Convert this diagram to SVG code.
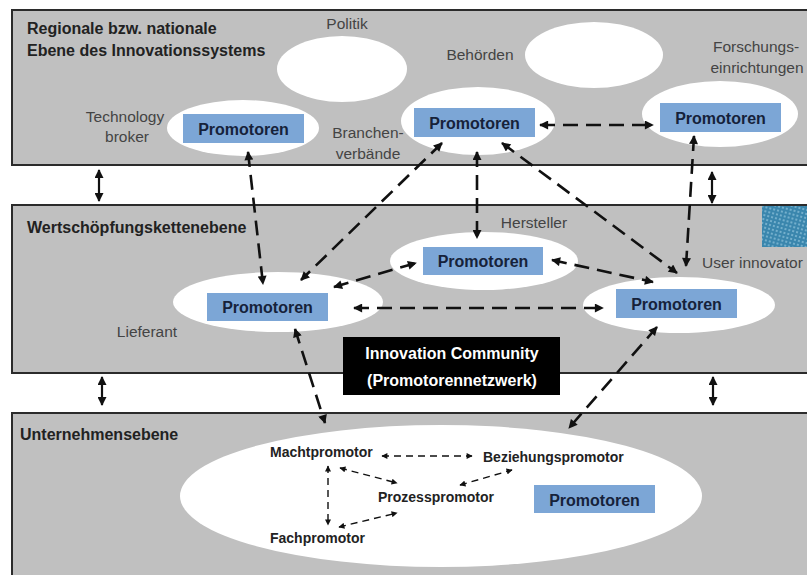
<svg xmlns="http://www.w3.org/2000/svg" width="807" height="575" viewBox="0 0 807 575">
<defs>
<style>
.panel{fill:#c0c0c0;stroke:#2b2b2b;stroke-width:2}
.ell{fill:#ffffff}
.box{fill:#7ca6d6}
.ptxt{font-family:"Liberation Sans",Arial,sans-serif;font-weight:bold;font-size:16px;fill:#16223a;text-anchor:middle}
.title{font-family:"Liberation Sans",Arial,sans-serif;font-weight:bold;font-size:16px;fill:#222}
.lbl{font-family:"Liberation Sans",Arial,sans-serif;font-size:15.5px;fill:#444}
.mid{text-anchor:middle}
.sm{font-family:"Liberation Sans",Arial,sans-serif;font-weight:bold;font-size:14px;fill:#222}
.big{fill:none;stroke:#111;stroke-width:2.6;stroke-dasharray:15 8;marker-start:url(#ah);marker-end:url(#ah)}
.small{fill:none;stroke:#111;stroke-width:1.4;stroke-dasharray:7 5;marker-start:url(#as);marker-end:url(#as)}
.solid{fill:none;stroke:#111;stroke-width:2.2;marker-start:url(#ah);marker-end:url(#ah)}
</style>
<marker id="ah" viewBox="0 0 10 10" refX="9" refY="5" markerWidth="10" markerHeight="9" markerUnits="userSpaceOnUse" orient="auto-start-reverse">
<path d="M0,0 L10,5 L0,10 Z" fill="#111"/>
</marker>
<marker id="as" viewBox="0 0 10 10" refX="9" refY="5" markerWidth="7" markerHeight="6" markerUnits="userSpaceOnUse" orient="auto-start-reverse">
<path d="M0,0 L10,5 L0,10 Z" fill="#111"/>
</marker>
<pattern id="dots" width="4" height="4" patternUnits="userSpaceOnUse" patternTransform="rotate(15)">
<rect width="4" height="4" fill="#3a86ad"/>
<circle cx="2" cy="2" r="0.9" fill="#8fc3dc"/>
</pattern>
</defs>

<g id="panel-regional">
<rect class="panel" x="12" y="10" width="800" height="155"/>
<text class="title" x="27" y="34">Regionale bzw. nationale</text>
<text class="title" x="27" y="56">Ebene des Innovationssystems</text>
</g>
<g id="panel-wertschoepfung">
<rect class="panel" x="12" y="205" width="800" height="168"/>
<text class="title" x="27" y="233">Wertschöpfungskettenebene</text>
<rect x="762" y="206" width="46" height="41" fill="url(#dots)"/>
</g>
<g id="panel-unternehmen">
<rect class="panel" x="12" y="413" width="800" height="170"/>
<text class="title" x="20" y="440">Unternehmensebene</text>
</g>

<g id="politik">
<text class="lbl mid" x="347" y="29">Politik</text>
<ellipse class="ell" cx="342" cy="69" rx="65" ry="33"/>
</g>
<g id="behoerden">
<text class="lbl mid" x="480" y="60">Behörden</text>
<ellipse class="ell" cx="594" cy="55" rx="69" ry="33"/>
</g>
<g id="technology-broker">
<text class="lbl mid" x="125" y="122">Technology</text>
<text class="lbl mid" x="127" y="142">broker</text>
<ellipse class="ell" cx="243" cy="128" rx="76" ry="28"/>
<rect class="box" x="183" y="114" width="121" height="29"/>
<text class="ptxt" x="243.5" y="135">Promotoren</text>
</g>
<g id="branchenverbaende">
<text class="lbl mid" x="368" y="138">Branchen-</text>
<text class="lbl mid" x="368" y="159">verbände</text>
<ellipse class="ell" cx="478" cy="121" rx="77" ry="34"/>
<rect class="box" x="414" y="108" width="121" height="29"/>
<text class="ptxt" x="474.5" y="129">Promotoren</text>
</g>
<g id="forschung">
<text class="lbl mid" x="756" y="52">Forschungs-</text>
<text class="lbl mid" x="757" y="73">einrichtungen</text>
<ellipse class="ell" cx="720" cy="114" rx="78" ry="33"/>
<rect class="box" x="660" y="103" width="121" height="29"/>
<text class="ptxt" x="720.5" y="124">Promotoren</text>
</g>

<g id="hersteller">
<text class="lbl mid" x="534" y="228">Hersteller</text>
<ellipse class="ell" cx="484" cy="261" rx="94" ry="29"/>
<rect class="box" x="423" y="247" width="120" height="28"/>
<text class="ptxt" x="483" y="267">Promotoren</text>
</g>
<g id="lieferant">
<text class="lbl mid" x="147" y="337">Lieferant</text>
<ellipse class="ell" cx="278" cy="302" rx="105" ry="30"/>
<rect class="box" x="207" y="293" width="121" height="28"/>
<text class="ptxt" x="267.5" y="313">Promotoren</text>
</g>
<g id="user-innovator">
<text class="lbl" x="702" y="268">User innovator</text>
<ellipse class="ell" cx="679" cy="305" rx="96" ry="28"/>
<rect class="box" x="616" y="289" width="121" height="29"/>
<text class="ptxt" x="676.5" y="310">Promotoren</text>
</g>
<g id="innovation-community">
<rect x="343" y="337" width="217" height="58" fill="#000"/>
<text class="ptxt" x="452" y="359" style="fill:#fff">Innovation Community</text>
<text class="ptxt" x="452" y="386" style="fill:#fff">(Promotorennetzwerk)</text>
</g>

<g id="unternehmen-promotoren">
<ellipse class="ell" cx="441" cy="496" rx="261" ry="71"/>
<text class="sm" x="270" y="457">Machtpromotor</text>
<text class="sm" x="483" y="462">Beziehungspromotor</text>
<text class="sm" x="378" y="502">Prozesspromotor</text>
<text class="sm" x="270" y="543">Fachpromotor</text>
<rect class="box" x="534" y="485" width="121" height="28"/>
<text class="ptxt" x="594.5" y="506">Promotoren</text>
</g>

<g id="connectors">
<path class="big" d="M248,152 L263,284"/>
<path class="big" d="M442,143 L301,280"/>
<path class="big" d="M477,152 L477,238"/>
<path class="big" d="M502,143 L677,273"/>
<path class="big" d="M540,125 L653,125"/>
<path class="big" d="M694,136 L686,266"/>
<path class="big" d="M334,287 L416,263"/>
<path class="big" d="M552,260 L653,282"/>
<path class="big" d="M354,308 L603,308"/>
<path class="big" d="M295,329 L325,423"/>
<path class="big" d="M657,327 L569,428"/>
<path class="solid" d="M99,170 L99,201"/>
<path class="solid" d="M102,377 L102,405"/>
<path class="solid" d="M712,172 L712,203"/>
<path class="solid" d="M713,377 L713,405"/>
<path class="small" d="M382,456 L472,456"/>
<path class="small" d="M340,468 L397,483"/>
<path class="small" d="M328,466 L328,525"/>
<path class="small" d="M339,527 L397,513"/>
<path class="small" d="M460,485 L512,470"/>
</g>
</svg>
